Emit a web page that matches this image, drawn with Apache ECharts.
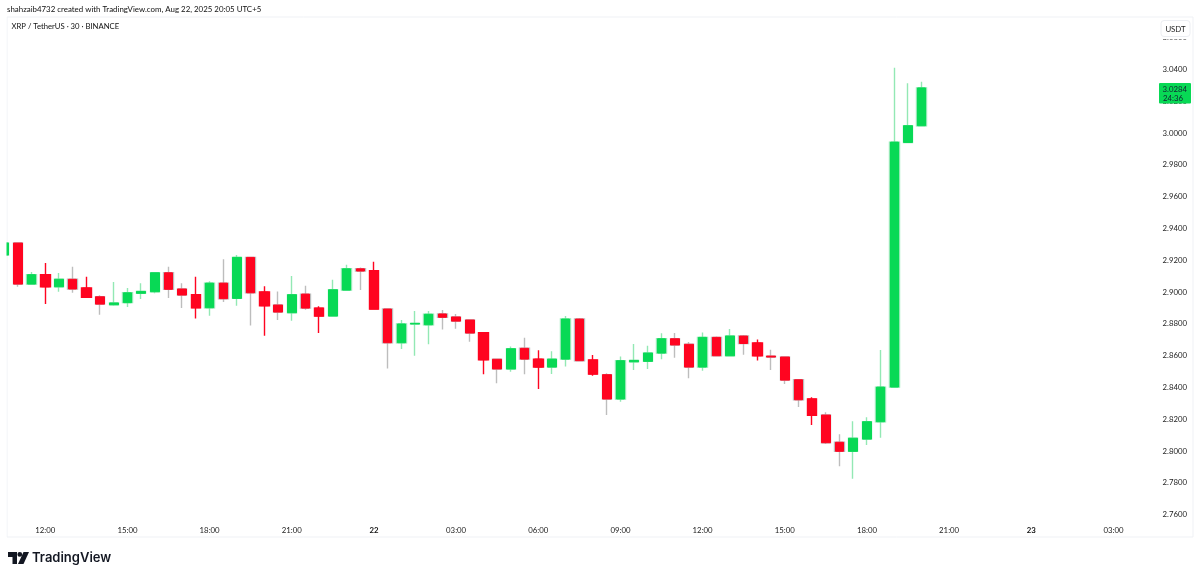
<!DOCTYPE html>
<html><head><meta charset="utf-8">
<style>html,body{margin:0;padding:0;background:#fff}#c{width:1200px;height:577px}</style>
<script src="https://cdn.jsdelivr.net/npm/echarts@6/dist/echarts.min.js"></script>
</head><body><div id="c"></div>
<script>
const opens = [2.9233,2.9308,2.9050,2.9109,2.9033,2.9080,2.9025,2.8970,2.8920,2.8933,2.8992,2.9002,2.9121,2.9019,2.8983,2.8901,2.9056,2.8960,2.9218,2.9000,2.8918,2.8870,2.8987,2.8899,2.8849,2.9012,2.9146,2.9134,2.8893,2.8681,2.8799,2.8794,2.8862,2.8843,2.8824,2.8744,2.8577,2.8516,2.8646,2.8578,2.8528,2.8578,2.8830,2.8572,2.8480,2.8327,2.8561,2.8564,2.8616,2.8706,2.8671,2.8528,2.8715,2.8599,2.8723,2.8679,2.8597,2.8591,2.8448,2.8327,2.8226,2.8055,2.7998,2.8075,2.8184,2.8402,2.9941,3.0046];
const closes = [2.9308,2.9050,2.9109,2.9033,2.9080,2.9019,2.8967,2.8924,2.8931,2.8995,2.9004,2.9121,2.9017,2.8981,2.8901,2.9056,2.8958,2.9218,2.8995,2.8914,2.8874,2.8983,2.8899,2.8849,2.9014,2.9146,2.9132,2.8893,2.8681,2.8799,2.8803,2.8860,2.8841,2.8817,2.8742,2.8574,2.8516,2.8643,2.8578,2.8528,2.8578,2.8830,2.8568,2.8484,2.8327,2.8568,2.8570,2.8616,2.8706,2.8667,2.8528,2.8715,2.8599,2.8723,2.8676,2.8599,2.8591,2.8446,2.8322,2.8224,2.8052,2.7998,2.8080,2.8184,2.8402,2.9943,3.0046,3.0284];
const lows = [2.9233,2.9033,2.9050,2.8924,2.9002,2.8995,2.8967,2.8857,2.8914,2.8906,2.8956,2.8992,2.8962,2.8899,2.8833,2.8851,2.8937,2.8914,2.8790,2.8725,2.8824,2.8819,2.8889,2.8742,2.8845,2.9012,2.9012,2.8893,2.8519,2.8641,2.8599,2.8671,2.8765,2.8769,2.8687,2.8482,2.8426,2.8499,2.8482,2.8390,2.8484,2.8531,2.8568,2.8473,2.8226,2.8310,2.8509,2.8516,2.8577,2.8587,2.8457,2.8505,2.8599,2.8599,2.8606,2.8570,2.8509,2.8421,2.8277,2.8163,2.8044,2.7904,2.7826,2.8038,2.8083,2.8402,2.9941,3.0046];
const highs = [2.9308,2.9308,2.9126,2.9182,2.9119,2.9159,2.9096,2.8979,2.9063,2.9025,2.9055,2.9126,2.9159,2.9055,2.9096,2.9067,2.9206,2.9233,2.9222,2.9036,2.9004,2.9101,2.9040,2.8910,2.9077,2.9172,2.9155,2.9190,2.8893,2.8824,2.8880,2.8880,2.8887,2.8862,2.8824,2.8744,2.8577,2.8658,2.8712,2.8633,2.8627,2.8849,2.8836,2.8604,2.8489,2.8595,2.8673,2.8662,2.8740,2.8742,2.8685,2.8746,2.8721,2.8767,2.8729,2.8702,2.8637,2.8591,2.8453,2.8338,2.8243,2.8105,2.8187,2.8212,2.8635,3.0411,3.0313,3.0323];
const redWick = [3,6,14,19,23,27,35,39,43,55,59];
const priceTicks = [2.76,2.78,2.80,2.82,2.84,2.86,2.88,2.90,2.92,2.94,2.96,2.98,3.00,3.02,3.04,3.06];
const timeTickIdx = [3,9,15,21,27,33,39,45,51,57,63,69,75,81];
const timeTickLabels = ['12:00','15:00','18:00','21:00','22','03:00','06:00','09:00','12:00','15:00','18:00','21:00','23','03:00'];
const headerText = 'shahzaib4732 created with TradingView.com, Aug 22, 2025 20:05 UTC+5';
const symbolText = 'XRP / TetherUS · 30 · BINANCE';
const lastPrice = '3.0284', countdown = '24:36', unit = 'USDT';

const UP='#08d955', DOWN='#ff0420', UPW='#93e8b4', GREYW='#bdbdbd';
const FONT='Lato, sans-serif';
const FS=7.8;
const wicks = opens.map((o,i)=>{
  const up = closes[i]>=o;
  const w = up?UPW:(redWick.includes(i)?DOWN:GREYW);
  return {value:[i,o,closes[i],lows[i],highs[i]],itemStyle:{borderColor:w,borderColor0:w}};
});
const bodies = opens.map((o,i)=>[i,o,closes[i],Math.min(o,closes[i]),Math.max(o,closes[i])]);
const chart = echarts.init(document.getElementById('c'),null,{renderer:'canvas'});
chart.setOption({
  animation:false,
  backgroundColor:'#fff',
  title:[
    {text:headerText,left:7,top:5,padding:0,textStyle:{fontFamily:FONT,fontSize:7.9,fontWeight:'normal',color:'#111'}},
    {text:symbolText,left:11.5,top:23,padding:0,textStyle:{fontFamily:FONT,fontSize:7.7,fontWeight:'normal',color:'#111'}}
  ],
  grid:{left:7,right:7,top:17,bottom:40,show:true,borderColor:'#eff1f5',borderWidth:1,backgroundColor:'#fff'},
  xAxis:{type:'value',min:0.204,max:86.81,position:'bottom',splitLine:{show:false},axisLine:{show:false},axisTick:{show:false},
    axisLabel:{inside:true,margin:3,hideOverlap:false,showMinLabel:true,showMaxLabel:true,customValues:timeTickIdx,
      formatter:v=>{const s=timeTickLabels[timeTickIdx.indexOf(v)]||'';return s.length<3?'{b|'+s+'}':s;},
      fontFamily:FONT,fontSize:FS,color:'#222',rich:{b:{fontFamily:FONT,fontSize:FS,fontWeight:'bold',color:'#111'}}}},
  yAxis:{type:'value',position:'right',min:2.7459,max:3.0730,splitLine:{show:false},axisLine:{show:false},axisTick:{show:false},
    axisLabel:{inside:true,margin:6,padding:[2,0,0,0],customValues:priceTicks,formatter:v=>v.toFixed(4),fontFamily:FONT,fontSize:FS,color:'#222'}},
  series:[
    {type:'candlestick',barWidth:10,encode:{x:0,y:[1,2,3,4]},itemStyle:{color:UP,color0:DOWN,borderWidth:1.4},data:wicks},
    {type:'candlestick',barWidth:9,encode:{x:0,y:[1,2,3,4]},itemStyle:{color:UP,color0:DOWN,borderColor:UP,borderColor0:DOWN,borderWidth:1},data:bodies}
  ],
  graphic:[
    {type:'rect',z:100,shape:{x:0,y:0,width:6.5,height:577},style:{fill:'#fff'}},
    {type:'rect',z:100,shape:{x:1160,y:36,width:31,height:3.2},style:{fill:'#fff'}},
    {type:'rect',z:100,shape:{x:1161,y:20.5,width:29,height:16,r:3},style:{fill:'#fff',stroke:'#eceef2',lineWidth:1}},
    {type:'text',z:101,x:1175.5,y:29,style:{text:unit,fontFamily:FONT,fontSize:FS,fill:'#222',align:'center',verticalAlign:'middle'}},
    {type:'rect',z:100,shape:{x:1159,y:83,width:32,height:20.5,r:1},style:{fill:UP}},
    {type:'text',z:101,x:1187,y:89,style:{text:lastPrice,fontFamily:FONT,fontSize:FS,fill:'#123',align:'right',verticalAlign:'middle'}},
    {type:'text',z:101,x:1183,y:98.5,style:{text:countdown,fontFamily:FONT,fontSize:FS,fill:'#123',align:'right',verticalAlign:'middle'}},
    {type:'polygon',z:100,shape:{points:[[8,552],[17,552],[17,564],[12.5,564],[12.5,557],[8,557]]},style:{fill:'#131722'}},
    {type:'circle',z:100,shape:{cx:19.8,cy:554.4,r:2.4},style:{fill:'#131722'}},
    {type:'polygon',z:100,shape:{points:[[23.5,552],[29,552],[23.5,564],[18,564]]},style:{fill:'#131722'}},
    {type:'text',z:100,x:32,y:558,style:{text:'TradingView',fontFamily:'Inter, sans-serif',fontSize:13,fontWeight:600,fill:'#131722',verticalAlign:'middle'}}
  ]
});
</script></body></html>
